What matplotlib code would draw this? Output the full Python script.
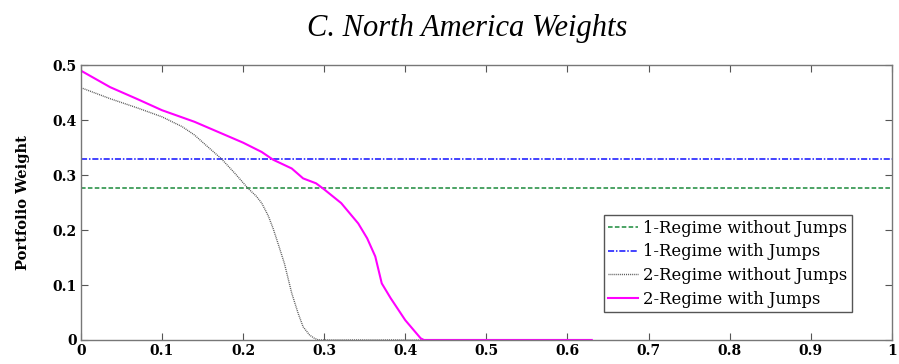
import matplotlib

matplotlib.use("Agg")

import matplotlib.pyplot as plt  # noqa: E402

# values
x_flat = [0.0, 1.0]
one_regime_no_jumps = [0.276, 0.276]
one_regime_jumps = [0.330, 0.330]

x_two_nj = [0.0, 0.036, 0.07, 0.1, 0.125, 0.14, 0.156, 0.173, 0.19, 0.206,
            0.216, 0.223, 0.231, 0.237, 0.243, 0.251, 0.26, 0.268, 0.274,
            0.282, 0.288, 0.293, 0.63]
two_regime_no_jumps = [0.459, 0.439, 0.422, 0.406, 0.388, 0.373, 0.352, 0.330,
                       0.303, 0.276, 0.262, 0.249, 0.226, 0.203, 0.176, 0.139,
                       0.085, 0.048, 0.024, 0.009, 0.003, 0.0, 0.0]

x_two_j = [0.0, 0.036, 0.07, 0.1, 0.14, 0.2, 0.223, 0.237, 0.26, 0.274, 0.29,
           0.3, 0.321, 0.342, 0.353, 0.363, 0.371, 0.382, 0.4, 0.419, 0.423,
           0.63]
two_regime_jumps = [0.49, 0.46, 0.438, 0.418, 0.397, 0.359, 0.342, 0.328, 0.312,
                    0.294, 0.285, 0.274, 0.249, 0.212, 0.185, 0.152, 0.103,
                    0.076, 0.036, 0.003, 0.0, 0.0]

xticks = [0, 0.1, 0.2, 0.3, 0.4, 0.5, 0.6, 0.7, 0.8, 0.9, 1]
xtick_labels = ["0", "0.1", "0.2", "0.3", "0.4", "0.5", "0.6", "0.7", "0.8", "0.9", "1"]
yticks = [0, 0.1, 0.2, 0.3, 0.4, 0.5]
ytick_labels = ["0", "0.1", "0.2", "0.3", "0.4", "0.5"]

plt.rcParams["font.family"] = ["DejaVu Serif"]

fig = plt.figure(figsize=(8.99, 3.64), dpi=100)
ax = fig.add_axes([0.090, 0.066, 0.902, 0.755])

ax.plot(x_flat, one_regime_no_jumps, color="#1a8a3a", linestyle=(0, (3, 1.5)),
        linewidth=1.1, label="1-Regime without Jumps")
ax.plot(x_flat, one_regime_jumps, color="#1010ff", linestyle=(0, (4, 1.2, 1, 1.2)),
        linewidth=1.1, label="1-Regime with Jumps")
ax.plot(x_two_nj, two_regime_no_jumps, color="#555555", linestyle=(0, (0.7, 0.7)),
        linewidth=1.0, label="2-Regime without Jumps")
ax.plot(x_two_j, two_regime_jumps, color="#ff00ff", linewidth=1.5,
        label="2-Regime with Jumps")

ax.set_xlim(0, 1)
ax.set_ylim(0, 0.5)
ax.set_xticks(xticks)
ax.set_xticklabels(xtick_labels, fontweight="bold", fontsize=10)
ax.set_yticks(yticks)
ax.set_yticklabels(ytick_labels, fontweight="bold", fontsize=10)
ax.tick_params(direction="in", top=True, right=True, length=5, width=0.8,
               color="#555555", pad=3)
for s in ax.spines.values():
    s.set_color("#777777")
    s.set_linewidth(1.0)

ax.set_ylabel("Portfolio Weight", fontweight="bold", fontsize=10.5, labelpad=16)
fig.text(0.52, 0.922, "C. North America Weights", ha="center", va="center",
         fontsize=22, fontstyle="italic", family="Liberation Serif")

leg = ax.legend(loc="lower right", bbox_to_anchor=(0.951, 0.10), fontsize=11.8,
                fancybox=False, framealpha=1, edgecolor="#555555",
                handlelength=1.8, handletextpad=0.3, borderpad=0.3,
                labelspacing=0.4, borderaxespad=0)
leg.get_frame().set_linewidth(1.0)

fig.savefig("out.png", dpi=100)
